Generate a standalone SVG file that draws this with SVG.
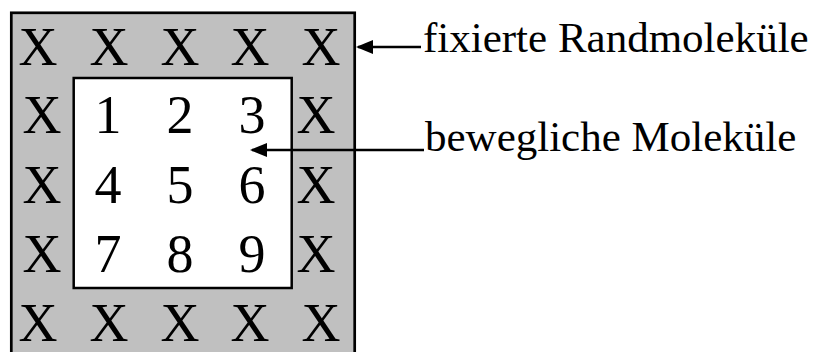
<svg xmlns="http://www.w3.org/2000/svg" width="824" height="352" viewBox="0 0 824 352">
<style>
.cell{font-family:"Liberation Serif","Times New Roman",serif;font-size:54px;fill:#000;text-anchor:middle}
.lbl{font-family:"Liberation Serif","Times New Roman",serif;font-size:43px;fill:#000}
.conn{stroke:#000;stroke-width:2.5;fill:none}
</style>
<defs>
<marker id="ah" markerUnits="userSpaceOnUse" markerWidth="18" markerHeight="14" refX="15" refY="7" orient="auto">
<path d="M0,0 L17,7 L0,14 z" fill="#000"/>
</marker>
</defs>
<rect width="824" height="352" fill="#fff"/>
<g id="outer">
<rect x="11.3" y="12.8" width="343.4" height="360" fill="#c0c0c0" stroke="#000" stroke-width="2.7"/>
</g>
<g id="inner">
<rect x="73.7" y="78" width="218" height="210" fill="#fff" stroke="#000" stroke-width="2.5"/>
</g>
<g id="fixed">
<text class="cell" x="38" y="65">X</text>
<text class="cell" x="109" y="65">X</text>
<text class="cell" x="180" y="65">X</text>
<text class="cell" x="250" y="65">X</text>
<text class="cell" x="321" y="65">X</text>
<text class="cell" x="42" y="133">X</text>
<text class="cell" x="316" y="133">X</text>
<text class="cell" x="42" y="203">X</text>
<text class="cell" x="316" y="203">X</text>
<text class="cell" x="42" y="272">X</text>
<text class="cell" x="316" y="272">X</text>
<text class="cell" x="38" y="341">X</text>
<text class="cell" x="109" y="341">X</text>
<text class="cell" x="180" y="341">X</text>
<text class="cell" x="250" y="341">X</text>
<text class="cell" x="321" y="341">X</text>
</g>
<g id="mobile">
<text class="cell" x="108" y="133">1</text>
<text class="cell" x="180" y="133">2</text>
<text class="cell" x="252" y="133">3</text>
<text class="cell" x="108" y="203">4</text>
<text class="cell" x="180" y="203">5</text>
<text class="cell" x="252" y="203">6</text>
<text class="cell" x="108" y="272">7</text>
<text class="cell" x="180" y="272">8</text>
<text class="cell" x="252" y="272">9</text>
</g>
<g id="connectors">
<line class="conn" x1="421" y1="47" x2="358" y2="47" marker-end="url(#ah)"/>
<line class="conn" x1="424" y1="150" x2="252" y2="150" marker-end="url(#ah)"/>
</g>
<g id="label-fixed">
<text class="lbl" x="423" y="52">fixierte Randmoleküle</text>
</g>
<g id="label-mobile">
<text class="lbl" x="425" y="151">bewegliche Moleküle</text>
</g>
</svg>
